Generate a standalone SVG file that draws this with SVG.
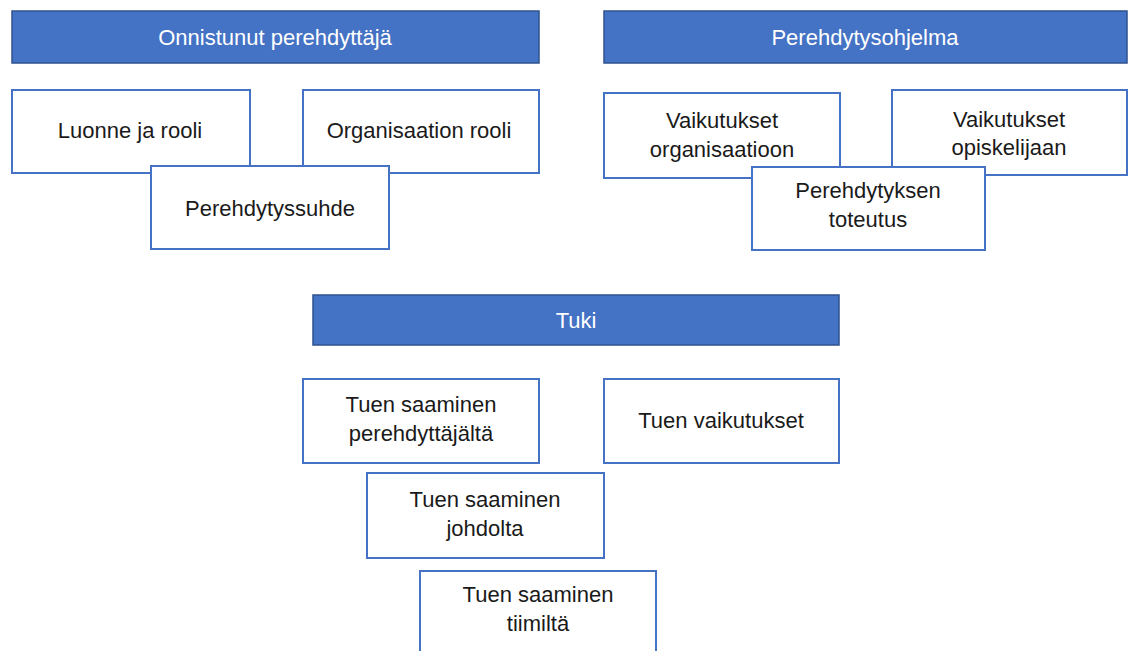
<svg xmlns="http://www.w3.org/2000/svg" width="1128" height="651" viewBox="0 0 1128 651">
<style>
.hdr{fill:#4472C4;stroke:#2F528F;stroke-width:1.5}
.box{fill:#FFFFFF;stroke:#4472C4;stroke-width:2}
text{font-family:"Liberation Sans",Arial,sans-serif;font-size:22px;text-anchor:middle}
.ht{fill:#FFFFFF}
.bt{fill:#1a1a1a}
</style>
<rect x="0" y="0" width="1128" height="651" fill="#FFFFFF"/>
<g id="h1"><rect class="hdr" x="12" y="11" width="527" height="52"/><text class="ht" x="275" y="45">Onnistunut perehdyttäjä</text></g>
<g id="h2"><rect class="hdr" x="604" y="11" width="523" height="52"/><text class="ht" x="865" y="45">Perehdytysohjelma</text></g>
<g id="h3"><rect class="hdr" x="313" y="295" width="526" height="50"/><text class="ht" x="576" y="328">Tuki</text></g>
<g id="n1"><rect class="box" x="12" y="90" width="238" height="83"/><text class="bt" x="130" y="138">Luonne ja rooli</text></g>
<g id="n2"><rect class="box" x="303" y="90" width="236" height="83"/><text class="bt" x="419" y="138">Organisaation rooli</text></g>
<g id="n3"><rect class="box" x="151" y="166" width="238" height="83"/><text class="bt" x="270" y="216">Perehdytyssuhde</text></g>
<g id="n4"><rect class="box" x="604" y="93" width="236" height="85"/><text class="bt" x="722" y="128">Vaikutukset</text><text class="bt" x="722" y="157">organisaatioon</text></g>
<g id="n5"><rect class="box" x="892" y="90" width="235" height="85"/><text class="bt" x="1009" y="127">Vaikutukset</text><text class="bt" x="1009" y="155">opiskelijaan</text></g>
<g id="n6"><rect class="box" x="752" y="167" width="233" height="83"/><text class="bt" x="868" y="198">Perehdytyksen</text><text class="bt" x="868" y="227">toteutus</text></g>
<g id="n7"><rect class="box" x="303" y="379" width="236" height="84"/><text class="bt" x="421" y="412">Tuen saaminen</text><text class="bt" x="421" y="441">perehdyttäjältä</text></g>
<g id="n8"><rect class="box" x="604" y="379" width="235" height="84"/><text class="bt" x="721" y="428">Tuen vaikutukset</text></g>
<g id="n9"><rect class="box" x="367" y="473" width="237" height="85"/><text class="bt" x="485" y="507">Tuen saaminen</text><text class="bt" x="485" y="536">johdolta</text></g>
<g id="n10"><rect class="box" x="420" y="571" width="236" height="90"/><text class="bt" x="538" y="602">Tuen saaminen</text><text class="bt" x="538" y="631">tiimiltä</text></g>
<g id="connectors"></g>
</svg>
